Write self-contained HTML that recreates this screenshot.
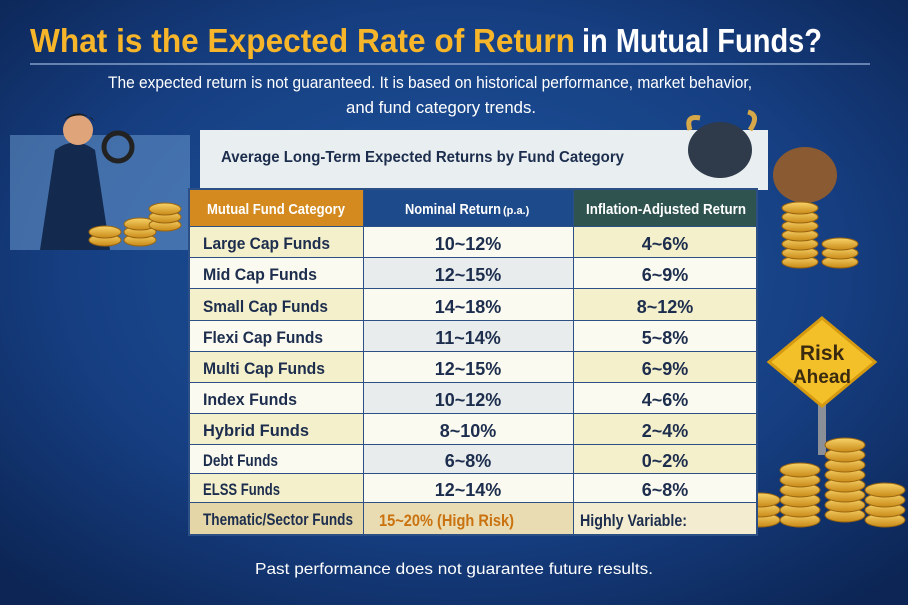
<!DOCTYPE html>
<html><head><meta charset="utf-8"><style>
html,body{margin:0;padding:0;width:908px;height:605px;overflow:hidden;background:#123a78}
svg{display:block}
text{font-family:"Liberation Sans Narrow","Liberation Sans",sans-serif;font-weight:bold}
text.n{font-weight:normal}
</style></head><body>
<svg width="908" height="605" viewBox="0 0 908 605" xmlns="http://www.w3.org/2000/svg">
<defs>
<radialGradient id="bg" cx="50%" cy="45%" r="70%">
<stop offset="0" stop-color="#1f56a0"/><stop offset="0.6" stop-color="#163f82"/><stop offset="1" stop-color="#0c2555"/>
</radialGradient>
<linearGradient id="coin" x1="0" y1="0" x2="0" y2="1"><stop offset="0" stop-color="#f7d36a"/><stop offset="1" stop-color="#c98a17"/></linearGradient>
</defs>
<rect width="908" height="605" fill="url(#bg)"/>
<line x1="30" y1="64" x2="870" y2="64" stroke="#8aa6cf" stroke-width="2" opacity="0.7"/>
<text x="30" y="52" font-size="33" textLength="545" lengthAdjust="spacingAndGlyphs" fill="#f7b52a">What is the Expected Rate of Return</text>
<text x="582" y="52" font-size="33" textLength="240" lengthAdjust="spacingAndGlyphs" fill="#ffffff">in Mutual Funds?</text>
<text class="n" x="108" y="88" font-size="17" textLength="644" lengthAdjust="spacingAndGlyphs" fill="#fff">The expected return is not guaranteed. It is based on historical performance, market behavior,</text>
<text class="n" x="346" y="113" font-size="17" textLength="190" lengthAdjust="spacingAndGlyphs" fill="#fff">and fund category trends.</text>

<!-- left decoration -->
<rect x="10" y="135" width="180" height="115" fill="#6f9fd3" opacity="0.5"/>
<path d="M40 250 L55 150 Q75 135 95 150 L110 250 Z" fill="#13294d"/>
<circle cx="78" cy="130" r="15" fill="#e0a47a"/>
<path d="M62 122 Q78 105 95 122 L92 118 Q78 112 64 120Z" fill="#1b1b1b"/>
<circle cx="118" cy="147" r="14" fill="none" stroke="#222" stroke-width="5"/>
<g fill="url(#coin)" stroke="#9a6510" stroke-width="1">
<ellipse cx="105" cy="240" rx="16" ry="6"/><ellipse cx="105" cy="232" rx="16" ry="6"/>
<ellipse cx="140" cy="240" rx="16" ry="6"/><ellipse cx="140" cy="232" rx="16" ry="6"/><ellipse cx="140" cy="224" rx="16" ry="6"/>
<ellipse cx="165" cy="225" rx="16" ry="6"/><ellipse cx="165" cy="217" rx="16" ry="6"/><ellipse cx="165" cy="209" rx="16" ry="6"/>
</g>

<!-- panel -->
<rect x="200" y="130" width="568" height="60" fill="#e9eef0"/>
<text x="221" y="162" font-size="16" textLength="403" lengthAdjust="spacingAndGlyphs" fill="#1c2d4d">Average Long-Term Expected Returns by Fund Category</text>

<!-- right decoration bull/bear -->
<ellipse cx="720" cy="150" rx="32" ry="28" fill="#2f3a4a"/>
<path d="M690 130 Q685 115 700 118 M750 130 Q760 115 748 112" stroke="#d6a84a" stroke-width="5" fill="none"/>
<ellipse cx="805" cy="175" rx="32" ry="28" fill="#8a5a32"/>
<g fill="url(#coin)" stroke="#9a6510" stroke-width="1">
<ellipse cx="800" cy="262" rx="18" ry="6"/><ellipse cx="800" cy="253" rx="18" ry="6"/><ellipse cx="800" cy="244" rx="18" ry="6"/><ellipse cx="800" cy="235" rx="18" ry="6"/><ellipse cx="800" cy="226" rx="18" ry="6"/><ellipse cx="800" cy="217" rx="18" ry="6"/><ellipse cx="800" cy="208" rx="18" ry="6"/>
<ellipse cx="840" cy="262" rx="18" ry="6"/><ellipse cx="840" cy="253" rx="18" ry="6"/><ellipse cx="840" cy="244" rx="18" ry="6"/>
</g>

<!-- risk sign -->
<rect x="818" y="395" width="8" height="60" fill="#8a8f98"/>
<polygon points="822,318 875,362 822,406 769,362" fill="#f4c02a" stroke="#d69a10" stroke-width="3"/>
<text x="822" y="360" font-size="21" text-anchor="middle" fill="#3a2a10">Risk</text>
<text x="822" y="383" font-size="19" text-anchor="middle" fill="#3a2a10">Ahead</text>
<g fill="url(#coin)" stroke="#9a6510" stroke-width="1">
<ellipse cx="760" cy="520" rx="20" ry="7"/><ellipse cx="760" cy="510" rx="20" ry="7"/><ellipse cx="760" cy="500" rx="20" ry="7"/>
<ellipse cx="800" cy="520" rx="20" ry="7"/><ellipse cx="800" cy="510" rx="20" ry="7"/><ellipse cx="800" cy="500" rx="20" ry="7"/><ellipse cx="800" cy="490" rx="20" ry="7"/><ellipse cx="800" cy="480" rx="20" ry="7"/><ellipse cx="800" cy="470" rx="20" ry="7"/>
<ellipse cx="845" cy="515" rx="20" ry="7"/><ellipse cx="845" cy="505" rx="20" ry="7"/><ellipse cx="845" cy="495" rx="20" ry="7"/><ellipse cx="845" cy="485" rx="20" ry="7"/><ellipse cx="845" cy="475" rx="20" ry="7"/><ellipse cx="845" cy="465" rx="20" ry="7"/><ellipse cx="845" cy="455" rx="20" ry="7"/><ellipse cx="845" cy="445" rx="20" ry="7"/>
<ellipse cx="885" cy="520" rx="20" ry="7"/><ellipse cx="885" cy="510" rx="20" ry="7"/><ellipse cx="885" cy="500" rx="20" ry="7"/><ellipse cx="885" cy="490" rx="20" ry="7"/>
</g>

<!-- table -->
<rect x="188" y="188" width="570" height="348" fill="#2c4f86"/>
<rect x="190" y="190" width="173" height="36" fill="#d48a1e"/>
<rect x="364" y="190" width="209" height="36" fill="#1d4a8a"/>
<rect x="574" y="190" width="182" height="36" fill="#2f5450"/>
<text x="207" y="214" font-size="15" textLength="138" lengthAdjust="spacingAndGlyphs" fill="#fff">Mutual Fund Category</text>
<text x="405" y="214" font-size="15" textLength="96" lengthAdjust="spacingAndGlyphs" fill="#fff">Nominal Return</text>
<text x="503" y="214" font-size="11" fill="#fff">(p.a.)</text>
<text x="586" y="214" font-size="15" textLength="160" lengthAdjust="spacingAndGlyphs" fill="#fff">Inflation-Adjusted Return</text>

<g font-size="18">
<g>
<rect x="190" y="227" width="173" height="30" fill="#f5f0cc"/><rect x="364" y="227" width="209" height="30" fill="#fbfaf0"/><rect x="574" y="227" width="182" height="30" fill="#f5f0cc"/>
<text x="203" y="249" fill="#1c2d4d" font-size="17" textLength="127" lengthAdjust="spacingAndGlyphs">Large Cap Funds</text><text x="468" y="250" text-anchor="middle" fill="#1c2d4d">10~12%</text><text x="665" y="250" text-anchor="middle" fill="#1c2d4d">4~6%</text>
</g>
<g>
<rect x="190" y="258" width="173" height="30" fill="#fbfaf0"/><rect x="364" y="258" width="209" height="30" fill="#e8ecec"/><rect x="574" y="258" width="182" height="30" fill="#fbfaf0"/>
<text x="203" y="280" fill="#1c2d4d" font-size="17" textLength="114" lengthAdjust="spacingAndGlyphs">Mid Cap Funds</text><text x="468" y="281" text-anchor="middle" fill="#1c2d4d">12~15%</text><text x="665" y="281" text-anchor="middle" fill="#1c2d4d">6~9%</text>
</g>
<g>
<rect x="190" y="289" width="173" height="31" fill="#f5f0cc"/><rect x="364" y="289" width="209" height="31" fill="#fbfaf0"/><rect x="574" y="289" width="182" height="31" fill="#f5f0cc"/>
<text x="203" y="312" fill="#1c2d4d" font-size="17" textLength="125" lengthAdjust="spacingAndGlyphs">Small Cap Funds</text><text x="468" y="313" text-anchor="middle" fill="#1c2d4d">14~18%</text><text x="665" y="313" text-anchor="middle" fill="#1c2d4d">8~12%</text>
</g>
<g>
<rect x="190" y="321" width="173" height="30" fill="#fbfaf0"/><rect x="364" y="321" width="209" height="30" fill="#e8ecec"/><rect x="574" y="321" width="182" height="30" fill="#fbfaf0"/>
<text x="203" y="343" fill="#1c2d4d" font-size="17" textLength="120" lengthAdjust="spacingAndGlyphs">Flexi Cap Funds</text><text x="468" y="344" text-anchor="middle" fill="#1c2d4d">11~14%</text><text x="665" y="344" text-anchor="middle" fill="#1c2d4d">5~8%</text>
</g>
<g>
<rect x="190" y="352" width="173" height="30" fill="#f5f0cc"/><rect x="364" y="352" width="209" height="30" fill="#fbfaf0"/><rect x="574" y="352" width="182" height="30" fill="#f5f0cc"/>
<text x="203" y="374" fill="#1c2d4d" font-size="17" textLength="122" lengthAdjust="spacingAndGlyphs">Multi Cap Funds</text><text x="468" y="375" text-anchor="middle" fill="#1c2d4d">12~15%</text><text x="665" y="375" text-anchor="middle" fill="#1c2d4d">6~9%</text>
</g>
<g>
<rect x="190" y="383" width="173" height="30" fill="#fbfaf0"/><rect x="364" y="383" width="209" height="30" fill="#e8ecec"/><rect x="574" y="383" width="182" height="30" fill="#fbfaf0"/>
<text x="203" y="405" fill="#1c2d4d" font-size="17" textLength="94" lengthAdjust="spacingAndGlyphs">Index Funds</text><text x="468" y="406" text-anchor="middle" fill="#1c2d4d">10~12%</text><text x="665" y="406" text-anchor="middle" fill="#1c2d4d">4~6%</text>
</g>
<g>
<rect x="190" y="414" width="173" height="30" fill="#f5f0cc"/><rect x="364" y="414" width="209" height="30" fill="#fbfaf0"/><rect x="574" y="414" width="182" height="30" fill="#f5f0cc"/>
<text x="203" y="436" fill="#1c2d4d" font-size="17" textLength="106" lengthAdjust="spacingAndGlyphs">Hybrid Funds</text><text x="468" y="437" text-anchor="middle" fill="#1c2d4d">8~10%</text><text x="665" y="437" text-anchor="middle" fill="#1c2d4d">2~4%</text>
</g>
<g>
<rect x="190" y="445" width="173" height="28" fill="#fbfaf0"/><rect x="364" y="445" width="209" height="28" fill="#e8ecec"/><rect x="574" y="445" width="182" height="28" fill="#f5f0cc"/>
<text x="203" y="466" fill="#1c2d4d" font-size="17" textLength="75" lengthAdjust="spacingAndGlyphs">Debt Funds</text><text x="468" y="467" text-anchor="middle" fill="#1c2d4d">6~8%</text><text x="665" y="467" text-anchor="middle" fill="#1c2d4d">0~2%</text>
</g>
<g>
<rect x="190" y="474" width="173" height="28" fill="#f5f0cc"/><rect x="364" y="474" width="209" height="28" fill="#fbfaf0"/><rect x="574" y="474" width="182" height="28" fill="#fbfaf0"/>
<text x="203" y="495" fill="#1c2d4d" font-size="17" textLength="77" lengthAdjust="spacingAndGlyphs">ELSS Funds</text><text x="468" y="496" text-anchor="middle" fill="#1c2d4d">12~14%</text><text x="665" y="496" text-anchor="middle" fill="#1c2d4d">6~8%</text>
</g>
<g>
<rect x="190" y="503" width="173" height="31" fill="#e4d6a6"/><rect x="364" y="503" width="209" height="31" fill="#eadcb2"/><rect x="574" y="503" width="182" height="31" fill="#f3ecd0"/>
<text x="203" y="525" fill="#1c2d4d" font-size="17" textLength="150" lengthAdjust="spacingAndGlyphs">Thematic/Sector Funds</text>
<text x="379" y="526" fill="#c9720f" font-size="17" textLength="135" lengthAdjust="spacingAndGlyphs">15~20% (High Risk)</text>
<text x="580" y="526" fill="#1c2d4d" font-size="17" textLength="107" lengthAdjust="spacingAndGlyphs">Highly Variable:</text>
</g>
</g>

<text class="n" x="454" y="574" font-size="16" text-anchor="middle" textLength="398" lengthAdjust="spacingAndGlyphs" fill="#fff">Past performance does not guarantee future results.</text>
</svg>
</body></html>
